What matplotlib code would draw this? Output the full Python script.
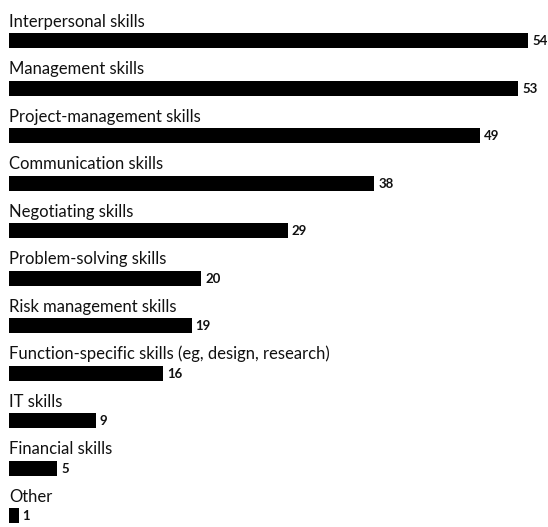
import matplotlib
matplotlib.use("Agg")
import matplotlib.pyplot as plt

categories = ["Interpersonal skills", "Management skills", "Project-management skills",
              "Communication skills", "Negotiating skills", "Problem-solving skills",
              "Risk management skills", "Function-specific skills (eg, design, research)",
              "IT skills", "Financial skills", "Other"]
values = [54, 53, 49, 38, 29, 20, 19, 16, 9, 5, 1]

W, H = 548, 527
fig = plt.figure(figsize=(W / 100, H / 100), dpi=100)
ax = fig.add_axes([0, 0, 1, 1])

px_per_unit = 519 / 54
x0_px = 9
row0_px, row_px = 40.5, 47.5
ax.set_xlim(-x0_px / px_per_unit, (W - x0_px) / px_per_unit)
ax.set_ylim((H - row0_px) / row_px, -row0_px / row_px)
ax.axis("off")

ypos = list(range(len(categories)))
ax.barh(ypos, values, height=15 / row_px, color="black", left=0)
for y, c, v in zip(ypos, categories, values):
    ax.text(0, y - 0.29, c, fontsize=12, family="Lato", va="baseline", ha="left", color="#111111")
    ax.text(v + 4 / px_per_unit, y + 0.02, str(v), fontsize=9.5, family="Lato", fontweight="bold",
            va="center", ha="left", color="#111111")

fig.savefig("out.png", dpi=100)
